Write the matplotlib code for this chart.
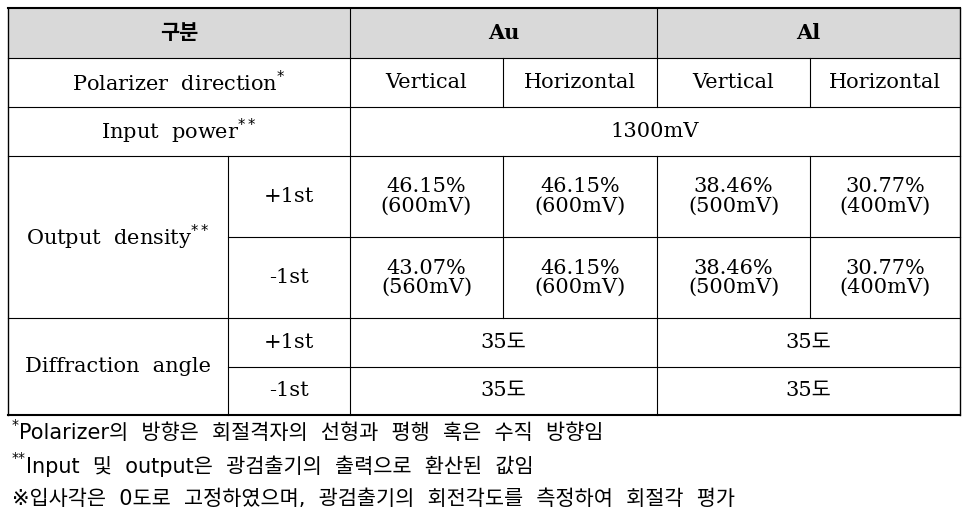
import matplotlib
matplotlib.use("Agg")
import matplotlib.pyplot as plt
from matplotlib.patches import Rectangle

FAM = ['DejaVu Serif', 'Noto Sans CJK KR', 'DejaVu Sans']
FAM2 = ['DejaVu Sans', 'Noto Sans CJK KR']

header = ["구분", "Au", "Al"]
polar = ["Vertical", "Horizontal", "Vertical", "Horizontal"]
input_power = "1300mV"
out_plus = ["46.15%\n(600mV)", "46.15%\n(600mV)", "38.46%\n(500mV)", "30.77%\n(400mV)"]
out_minus = ["43.07%\n(560mV)", "46.15%\n(600mV)", "38.46%\n(500mV)", "30.77%\n(400mV)"]
diff_angle = ["35도", "35도"]
orders = ["+1st", "-1st"]
notes = [("*", "Polarizer의  방향은  회절격자의  선형과  평행  혹은  수직  방향임"),
         ("**", "Input  및  output은  광검출기의  출력으로  환산된  값임"),
         ("", "※입사각은  0도로  고정하였으며,  광검출기의  회전각도를  측정하여  회절각  평가")]

fig = plt.figure(figsize=(9.68, 5.16), dpi=100)
ax = fig.add_axes([0, 0, 1, 1])
ax.set_xlim(0, 968); ax.set_ylim(516, 0); ax.axis('off')

X = [8, 228, 350, 503, 657, 810, 960]
Y = [8, 58, 107, 156, 237, 318, 367, 415]
fs = 15

ax.add_patch(Rectangle((X[0], Y[0]), X[6]-X[0], Y[1]-Y[0], color='#d9d9d9', lw=0))

def hl(y, x0, x1, lw=1):
    ax.plot([x0, x1], [y, y], color='black', lw=lw)
def vl(x, y0, y1, lw=1):
    ax.plot([x, x], [y0, y1], color='black', lw=lw)

for y in Y[1:7]:
    if y in (237, 367):
        hl(y, X[1], X[6], 0.8)
    else:
        hl(y, X[0], X[6], 0.8)
hl(Y[0], X[0], X[6], 1.5); hl(Y[7], X[0], X[6], 1.5)
vl(X[0], Y[0], Y[7]); vl(X[6], Y[0], Y[7])
vl(X[1], Y[3], Y[7], 0.8)
vl(X[2], Y[0], Y[7], 0.8)
vl(X[4], Y[0], Y[2], 0.8); vl(X[4], Y[3], Y[7], 0.8)
for x in (X[3], X[5]):
    vl(x, Y[1], Y[2], 0.8); vl(x, Y[3], Y[5], 0.8)

def t(x, y, s, bold=False, **kw):
    ax.text(x, y, s, ha='center', va='center', fontsize=fs, family=FAM,
            fontweight='bold' if bold else 'normal', linespacing=1.0, **kw)

cx = lambda i, j: (X[i] + X[j]) / 2
cy = lambda i, j: (Y[i] + Y[j]) / 2
t(cx(0, 2), cy(0, 1), header[0], True)
t(cx(2, 4), cy(0, 1), header[1], True)
t(cx(4, 6), cy(0, 1), header[2], True)
t(cx(0, 2), cy(1, 2), r"Polarizer  direction$^{*}$")
for k in range(4):
    t(cx(2+k, 3+k), cy(1, 2), polar[k])
t(cx(0, 2), cy(2, 3), r"Input  power$^{**}$")
t(cx(2, 6), cy(2, 3), input_power)
t(cx(0, 1), cy(3, 5), r"Output  density$^{**}$")
t(cx(1, 2), cy(3, 4), orders[0]); t(cx(1, 2), cy(4, 5), orders[1])
for k in range(4):
    t(cx(2+k, 3+k), cy(3, 4), out_plus[k])
    t(cx(2+k, 3+k), cy(4, 5), out_minus[k])
t(cx(0, 1), cy(5, 7), "Diffraction  angle")
t(cx(1, 2), cy(5, 6), orders[0]); t(cx(1, 2), cy(6, 7), orders[1])
for r in (5, 6):
    t(cx(2, 4), cy(r, r+1), diff_angle[0]); t(cx(4, 6), cy(r, r+1), diff_angle[1])

for (sup, s), y in zip(notes, [433, 466, 499]):
    x = 12
    if sup:
        ax.text(x, y - 8, sup, ha='left', va='center', fontsize=10, family=FAM2)
        x += 7 * len(sup)
    ax.text(x, y, s, ha='left', va='center', fontsize=15, family=FAM2)

fig.savefig("out.png", dpi=100)
